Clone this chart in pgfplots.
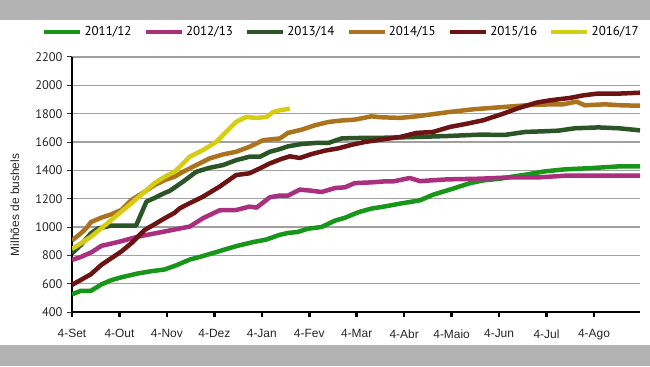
\documentclass[border=0pt]{standalone}
\usepackage{fontspec}
\setmainfont{Liberation Sans}
\newfontfamily\myriad{PT Sans}
\usepackage{pgfplots}
\pgfplotsset{compat=1.18}
\definecolor{bandgray}{HTML}{B3B3B3}
\definecolor{gridgray}{HTML}{A0A0A0}
\definecolor{cA}{HTML}{17961A}
\definecolor{cB}{HTML}{AA307F}
\definecolor{cC}{HTML}{2C5527}
\definecolor{cD}{HTML}{AC731F}
\definecolor{cE}{HTML}{6C1313}
\definecolor{cF}{HTML}{D6CC12}
\begin{document}
\begin{tikzpicture}[x=1bp,y=1bp]
\useasboundingbox (0,0) rectangle (650,366);
\fill[white] (0,0) rectangle (650,366);
\fill[bandgray] (0,346) rectangle (650,366);
\fill[bandgray] (0,0) rectangle (650,21);
\begin{axis}[
  at={(72bp,54bp)}, anchor=south west,
  width=568bp, height=255bp, scale only axis,
  xmin=0, xmax=11.97, ymin=400, ymax=2200,
  axis x line*=bottom, axis y line*=left,
  axis line style={line width=2.5bp, black, -},
  xtick={0,...,11},
  xticklabels={4-Set,4-Out,4-Nov,4-Dez,4-Jan,4-Fev,4-Mar,4-Abr,4-Maio,4-Jun,4-Jul,4-Ago},
  ytick={400,600,...,2200},
  tick align=outside,
  major tick length=5bp,
  xtick style={line width=2.5bp, black},
  ytick style={line width=1bp, black!80},
  ymajorgrids=true,
  grid style={line width=1.2bp, gridgray},
  /pgf/number format/assume math mode=true,
  /pgf/number format/1000 sep={},
  xticklabel style={font=\fontsize{12}{14}\selectfont, yshift=-9bp, text=black!85},
  yticklabel style={font=\myriad\fontsize{12.5}{14}\selectfont, xshift=-1bp, text=black!85},
  ylabel={Milhões de bushels},
  ylabel style={font=\fontsize{12}{14}\selectfont, at={(axis description cs:-0.1004,0.42)}, anchor=center, rotate=0, text=black!85},
  legend columns=6,
  legend style={at={(axis description cs:-0.053,1.098)}, anchor=west, draw=none, fill=none, inner sep=0pt,
    font=\myriad\fontsize{13}{15}\selectfont,
    /tikz/every even column/.append style={column sep=10bp}},
  legend image code/.code={\draw[#1,line width=4.5bp](0bp,0bp)--(36bp,0bp);},
  every axis plot/.append style={line width=4.5bp, line join=round, line cap=butt},
]
\addplot[cA] coordinates {(0,525)(0.19,550)(0.40,550)(0.62,595)(0.83,625)(1.04,645)(1.39,672)(1.67,688)(1.95,700)(2.2,730)(2.48,770)(2.76,795)(3.11,830)(3.46,865)(3.81,893)(4.10,912)(4.38,945)(4.55,958)(4.76,965)(4.97,988)(5.26,1000)(5.54,1045)(5.75,1065)(6.04,1105)(6.31,1130)(6.59,1145)(6.91,1165)(7.33,1188)(7.61,1228)(8.03,1271)(8.39,1310)(8.67,1329)(9.02,1341)(9.23,1353)(9.55,1369)(9.97,1393)(10.39,1407)(10.95,1416)(11.53,1428)(11.97,1428)};
\addlegendentry{2011/12}
\addplot[cB] coordinates {(0,768)(0.19,789)(0.40,820)(0.62,867)(0.83,883)(1.04,900)(1.39,932)(1.67,950)(1.95,968)(2.2,985)(2.48,1003)(2.76,1062)(3.11,1118)(3.46,1120)(3.74,1144)(3.89,1137)(4.17,1210)(4.38,1222)(4.55,1221)(4.80,1264)(5.05,1256)(5.26,1247)(5.54,1275)(5.75,1280)(5.96,1310)(6.31,1315)(6.59,1322)(6.77,1322)(7.12,1346)(7.33,1324)(7.89,1336)(8.60,1341)(9.23,1350)(9.82,1350)(10.39,1362)(11.97,1362)};
\addlegendentry{2012/13}
\addplot[cC] coordinates {(0,815)(0.19,874)(0.40,956)(0.55,990)(0.83,1010)(1.35,1010)(1.57,1180)(1.74,1205)(1.95,1240)(2.06,1255)(2.34,1320)(2.62,1390)(2.90,1418)(3.18,1437)(3.46,1472)(3.74,1496)(3.96,1496)(4.17,1531)(4.38,1550)(4.55,1569)(4.84,1586)(5.12,1593)(5.40,1593)(5.68,1625)(5.96,1628)(6.59,1630)(7.19,1635)(7.89,1642)(8.60,1652)(9.12,1650)(9.55,1671)(9.97,1676)(10.25,1680)(10.60,1697)(11.09,1703)(11.52,1697)(11.97,1682)};
\addlegendentry{2013/14}
\addplot[cD] coordinates {(0,905)(0.19,956)(0.30,991)(0.40,1035)(0.62,1066)(0.83,1090)(1.04,1120)(1.25,1190)(1.53,1249)(1.74,1296)(1.95,1331)(2.16,1355)(2.34,1390)(2.62,1437)(2.90,1484)(3.18,1512)(3.46,1531)(3.74,1566)(4.03,1613)(4.38,1625)(4.55,1664)(4.84,1687)(5.12,1718)(5.40,1741)(5.68,1752)(5.96,1758)(6.31,1781)(6.50,1775)(6.91,1770)(7.26,1781)(7.96,1812)(8.46,1831)(9.37,1854)(9.79,1864)(10.35,1866)(10.63,1885)(10.81,1859)(11.23,1866)(11.58,1859)(11.97,1856)};
\addlegendentry{2014/15}
\addplot[cE] coordinates {(0,592)(0.19,627)(0.40,667)(0.62,733)(0.83,780)(1.04,827)(1.25,885)(1.53,979)(1.74,1019)(1.95,1061)(2.16,1100)(2.27,1132)(2.48,1168)(2.76,1214)(3.11,1285)(3.46,1367)(3.74,1379)(3.96,1414)(4.17,1449)(4.41,1480)(4.59,1499)(4.80,1487)(5.05,1515)(5.33,1539)(5.61,1555)(5.89,1580)(6.17,1600)(6.56,1619)(6.91,1635)(7.26,1664)(7.61,1671)(7.96,1706)(8.32,1729)(8.66,1753)(9.09,1800)(9.37,1835)(9.79,1878)(10.07,1894)(10.49,1911)(10.77,1929)(11.06,1941)(11.48,1941)(11.97,1948)};
\addlegendentry{2015/16}
\addplot[cF] coordinates {(0,845)(0.19,885)(0.40,932)(0.62,991)(0.83,1050)(1.04,1108)(1.25,1167)(1.53,1249)(1.74,1310)(1.95,1354)(2.16,1390)(2.27,1425)(2.48,1496)(2.76,1543)(3.04,1601)(3.25,1672)(3.46,1742)(3.67,1777)(3.89,1770)(4.10,1777)(4.24,1812)(4.38,1824)(4.59,1835)};
\addlegendentry{2016/17}
\end{axis}
\end{tikzpicture}
\end{document}
